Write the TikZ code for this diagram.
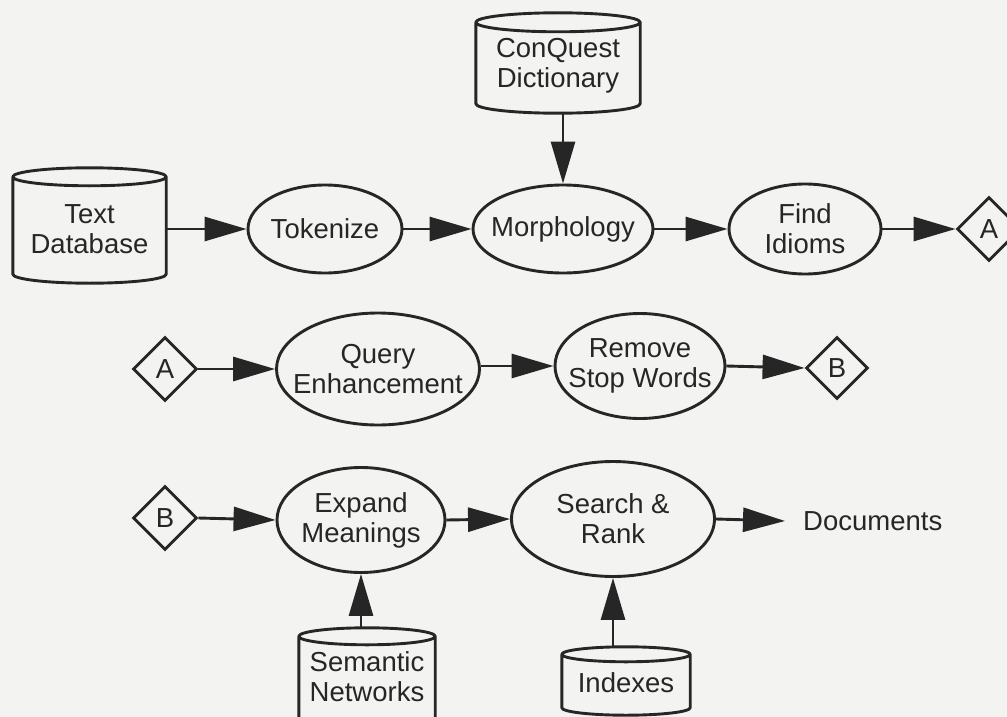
\documentclass[tikz,border=0pt]{standalone}
\usepackage{fontspec}
\setmainfont{Liberation Sans}
\usetikzlibrary{shapes.geometric,arrows.meta,calc}
\definecolor{bg}{HTML}{F3F3F1}
\definecolor{ink}{HTML}{262626}
\newcommand\drawcyl[2]{%
  \draw[cylline] let \p1=(#1.north west), \p2=(#1.south east), \n1={(\x2-\x1)/2} in
    (\x1,\y1-#2pt) -- (\x1,\y2+#2pt)
    arc[start angle=180,end angle=360,x radius=\n1,y radius=#2pt]
    -- (\x2,\y1-#2pt)
    arc[start angle=0,end angle=360,x radius=\n1,y radius=#2pt];}
\begin{document}
\begin{tikzpicture}[x=1pt,y=1pt,
  every node/.style={font=\fontsize{27.5}{30}\selectfont, text=ink},
  txt/.style={align=center, inner sep=0pt},
  proc/.style={ellipse, draw=ink, line width=2.9pt, inner sep=0pt},
  cylbox/.style={rectangle, draw=none, inner sep=0pt},
  cylline/.style={draw=ink, line width=2.9pt, line join=round},
  conn/.style={diamond, draw=ink, line width=2.9pt, inner sep=0pt, minimum size=64pt},
  arr/.style={draw=ink, line width=2.9pt, -{Triangle[length=42pt,width=24pt]}}]
\useasboundingbox (0,0) rectangle (1007,-717);
\clip (0,0) rectangle (1007,-717);
\fill[bg] (0,0) rectangle (1007,-717);

% row 1
\node[cylbox, minimum width=153pt, minimum height=115pt,
  label={[txt, yshift=-4pt]center:Text\\Database}] (td) at (89.5,-225.5) {};
\drawcyl{td}{9}
\node[cylbox, minimum width=164pt, minimum height=100pt,
  label={[txt, yshift=-3pt]center:ConQuest\\Dictionary}] (cq) at (558,-63) {};
\drawcyl{cq}{9.5}
\node[proc, minimum width=154pt, minimum height=88pt,
  label={[txt]center:Tokenize}] (tok) at (325,-229) {};
\node[proc, minimum width=180pt, minimum height=88pt,
  label={[txt]center:Morphology}] (mor) at (563,-229) {};
\node[proc, minimum width=152pt, minimum height=90pt,
  label={[txt]center:Find\\Idioms}] (idi) at (805,-229) {};
\node[conn] (dA1) at (989,-229) {A};

% row 2
\node[conn] (dA2) at (165,-369) {A};
\node[proc, minimum width=203pt, minimum height=112pt,
  label={[txt]center:Query\\Enhancement}] (qe) at (378,-369) {};
\node[proc, minimum width=170pt, minimum height=105pt,
  label={[txt]center:Remove\\Stop Words}] (rsw) at (640,-366) {};
\node[conn, minimum size=62pt] (dB1) at (837,-368) {B};

% row 3
\node[conn] (dB2) at (165,-518) {B};
\node[proc, minimum width=168pt, minimum height=105pt,
  label={[txt]center:Expand\\Meanings}] (exp) at (361,-520) {};
\node[proc, minimum width=203pt, minimum height=115pt,
  label={[txt]center:Search \&\\Rank}] (srch) at (613,-519) {};
\node[txt, anchor=west, inner xsep=18pt] (docs) at (785,-521) {Documents};
\node[cylbox, minimum width=136pt, minimum height=117pt,
  label={[txt, yshift=10pt]center:Semantic\\Networks}] (sem) at (367,-686.5) {};
\drawcyl{sem}{8.5}
\node[cylbox, minimum width=128pt, minimum height=68pt,
  label={[txt, yshift=-2pt]center:Indexes}] (idx) at (626,-681) {};
\drawcyl{idx}{7.5}

% connectors
\draw[arr] (td.east |- tok.west) -- (tok.west);
\draw[arr] (tok.east) -- (mor.west);
\draw[arr] (mor.east) -- (idi.west);
\draw[arr] (idi.east) -- (dA1.west);
\draw[arr] (cq.south -| mor.north) -- (mor.north);
\draw[arr] (dA2.east) -- (qe.west);
\draw[arr] (qe.east |- rsw.west) -- (rsw.west);
\draw[arr] (rsw.east) -- (dB1.west);
\draw[arr] (dB2.east) -- (exp.west);
\draw[arr] (exp.east) -- (srch.west);
\draw[arr] (srch.east) -- (docs.west);
\draw[arr] (sem.north -| exp.south) -- (exp.south);
\draw[arr] (idx.north -| srch.south) -- (srch.south);
\end{tikzpicture}
\end{document}
